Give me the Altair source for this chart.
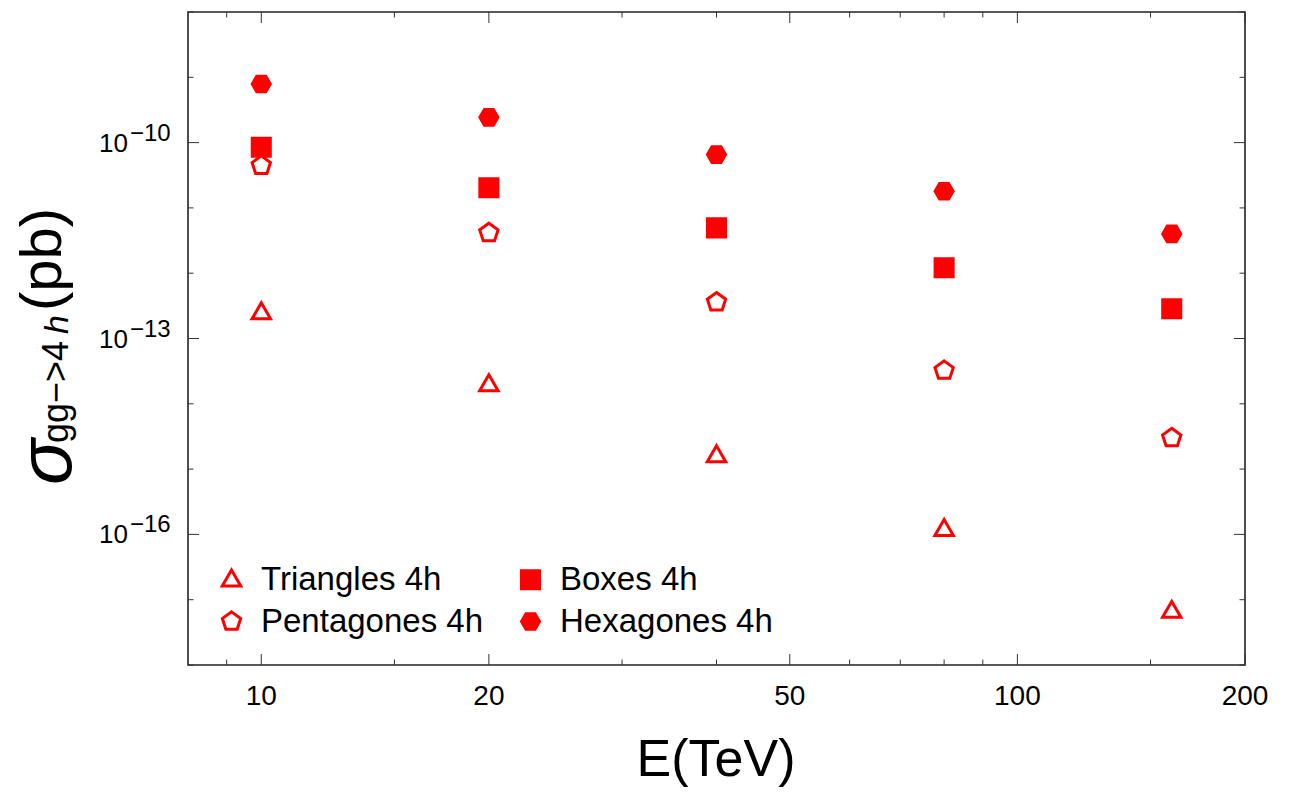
import altair as alt
import pandas as pd

# ---------------- data ----------------
E_TEV = [10, 20, 40, 80, 160]
TRIANGLES = [2.5e-13, 1.98e-14, 1.62e-15, 1.2e-16, 6.7e-18]
BOXES = [8.5e-11, 2.03e-11, 4.94e-12, 1.21e-12, 2.85e-13]
PENTAGONES = [4.45e-11, 4.15e-12, 3.6e-13, 3.23e-14, 3.0e-15]
HEXAGONES = [7.9e-10, 2.44e-10, 6.55e-11, 1.80e-11, 4.0e-12]

SERIES = ["Triangles 4h", "Boxes 4h", "Pentagones 4h", "Hexagones 4h"]
SERIES_VALUES = [TRIANGLES, BOXES, PENTAGONES, HEXAGONES]
# legend fills column by column: this order gives rows (Triangles, Boxes), (Pentagones, Hexagones)
LEGEND_ORDER = ["Triangles 4h", "Pentagones 4h", "Boxes 4h", "Hexagones 4h"]

X_MAJOR = [10, 20, 50, 100, 200]
X_MAJOR_LABELS = ["10", "20", "50", "100", "200"]
X_MINOR = [9, 15, 30, 40, 60, 70, 80, 90, 150]
Y_LABEL_EXP = [-10, -13, -16]
Y_LABEL_EXP_TEXT = ["\u221210", "\u221213", "\u221216"]
Y_MINOR_EXP = [-18, -17, -15, -14, -12, -11, -9, -8]

# ---------------- styling ----------------
W, H = 1057, 653
RED = "#ff0000"
TICK = "#333333"
SANS = "Liberation Sans, Arial, Helvetica, sans-serif"

SHAPE_OF = {
    "Triangles 4h": "M0,-0.92L0.88,0.6L-0.88,0.6Z",
    "Boxes 4h": "M-0.86,-0.86L0.86,-0.86L0.86,0.86L-0.86,0.86Z",
    "Pentagones 4h": "M0,-0.92L0.875,-0.284L0.54,0.745L-0.54,0.745L-0.875,-0.284Z",
    "Hexagones 4h": "M0.86,0L0.43,0.745L-0.43,0.745L-0.86,0L-0.43,-0.745L0.43,-0.745Z",
}
FILL_OF = {"Triangles 4h": "white", "Boxes 4h": RED, "Pentagones 4h": "white", "Hexagones 4h": RED}
SHAPES = [SHAPE_OF[s] for s in LEGEND_ORDER]
FILLS = [FILL_OF[s] for s in LEGEND_ORDER]

xscale = alt.Scale(type="log", domain=[8, 200], nice=False)
yscale = alt.Scale(type="log", domain=[1e-18, 1e-8], nice=False)

rows = []
for name, vals in zip(SERIES, SERIES_VALUES):
    for e, v in zip(E_TEV, vals):
        rows.append({"E": e, "sigma": v, "series": name})
df = pd.DataFrame(rows)

legend = alt.Legend(title=None, orient="none", legendX=27, legendY=551, columns=2,
                    columnPadding=30, rowPadding=8, labelFontSize=33, labelFont=SANS,
                    labelColor="black", labelLimit=600, labelOffset=13, symbolSize=441,
                    symbolStrokeWidth=3, symbolStrokeColor=RED, padding=0)

points = alt.Chart(df).mark_point(filled=True, strokeWidth=3, size=441, opacity=1).encode(
    x=alt.X("E:Q", scale=xscale, axis=None),
    y=alt.Y("sigma:Q", scale=yscale, axis=None),
    shape=alt.Shape("series:N", scale=alt.Scale(domain=LEGEND_ORDER, range=SHAPES), legend=legend),
    fill=alt.Fill("series:N", scale=alt.Scale(domain=LEGEND_ORDER, range=FILLS), legend=legend),
    stroke=alt.Stroke("series:N", scale=alt.Scale(domain=LEGEND_ORDER, range=[RED] * 4), legend=legend),
)


def xticks(values, length, top):
    d = pd.DataFrame({"v": values})
    if top:
        yy, yy2 = 0, length
    else:
        yy, yy2 = H, H - length
    return alt.Chart(d).mark_rule(color=TICK, strokeWidth=1).encode(
        x=alt.X("v:Q", scale=xscale, axis=None), y=alt.value(yy), y2=alt.value(yy2))


def yticks(exps, length, right):
    d = pd.DataFrame({"v": [10.0 ** e for e in exps]})
    if right:
        xx, xx2 = W, W - length
    else:
        xx, xx2 = 0, length
    return alt.Chart(d).mark_rule(color=TICK, strokeWidth=1).encode(
        y=alt.Y("v:Q", scale=yscale, axis=None), x=alt.value(xx), x2=alt.value(xx2))


tick_layers = [
    xticks(X_MAJOR, 11, False), xticks(X_MAJOR, 11, True),
    xticks(X_MINOR, 5.5, False), xticks(X_MINOR, 5.5, True),
    yticks(Y_LABEL_EXP, 11, False), yticks(Y_LABEL_EXP, 11, True),
    yticks(Y_MINOR_EXP, 5.5, False), yticks(Y_MINOR_EXP, 5.5, True),
]

xlab = alt.Chart(pd.DataFrame({"v": X_MAJOR, "t": X_MAJOR_LABELS})).mark_text(
    align="center", baseline="alphabetic", font=SANS, fontSize=28, color="black").encode(
    x=alt.X("v:Q", scale=xscale, axis=None), y=alt.value(693), text="t:N")

ydf = pd.DataFrame({"v": [10.0 ** e for e in Y_LABEL_EXP], "b": ["10"] * 3, "t": Y_LABEL_EXP_TEXT})
ylab_base = alt.Chart(ydf).mark_text(
    align="right", baseline="alphabetic", font=SANS, fontSize=26, dy=9, color="black").encode(
    y=alt.Y("v:Q", scale=yscale, axis=None), x=alt.value(-60), text="b:N")
ylab_exp = alt.Chart(ydf).mark_text(
    align="left", baseline="alphabetic", font=SANS, fontSize=24, dy=-2, color="black").encode(
    y=alt.Y("v:Q", scale=yscale, axis=None), x=alt.value(-58), text="t:N")


def label(txt, x, y, size, angle=0, align="center", style="normal", font=SANS):
    return alt.Chart(pd.DataFrame({"t": [txt]})).mark_text(
        align=align, baseline="alphabetic", font=font, fontSize=size, angle=angle,
        fontStyle=style, color="black").encode(x=alt.value(x), y=alt.value(y), text="t:N")


xtitle = label("E(TeV)", 528, 764, 52)
ytitle = [
    label("\u03c3", -117, 473, 76, angle=270, align="left", style="italic"),
    label("gg\u2212>4", -120, 431, 36, angle=270, align="left"),
    label("h", -120, 322, 34, angle=270, align="left", style="italic"),
    label("(pb)", -127, 299, 58, angle=270, align="left"),
]

chart = alt.layer(
    *tick_layers, points, xlab, ylab_base, ylab_exp, xtitle, *ytitle
).properties(
    width=W, height=H,
    autosize=alt.AutoSizeParams(type="none"),
    padding={"left": 180, "top": 4, "right": 40, "bottom": 122},
).configure_view(stroke="#222222", strokeWidth=1.6)

chart.save("out.html", embed_options={"renderer": "svg", "actions": False})
